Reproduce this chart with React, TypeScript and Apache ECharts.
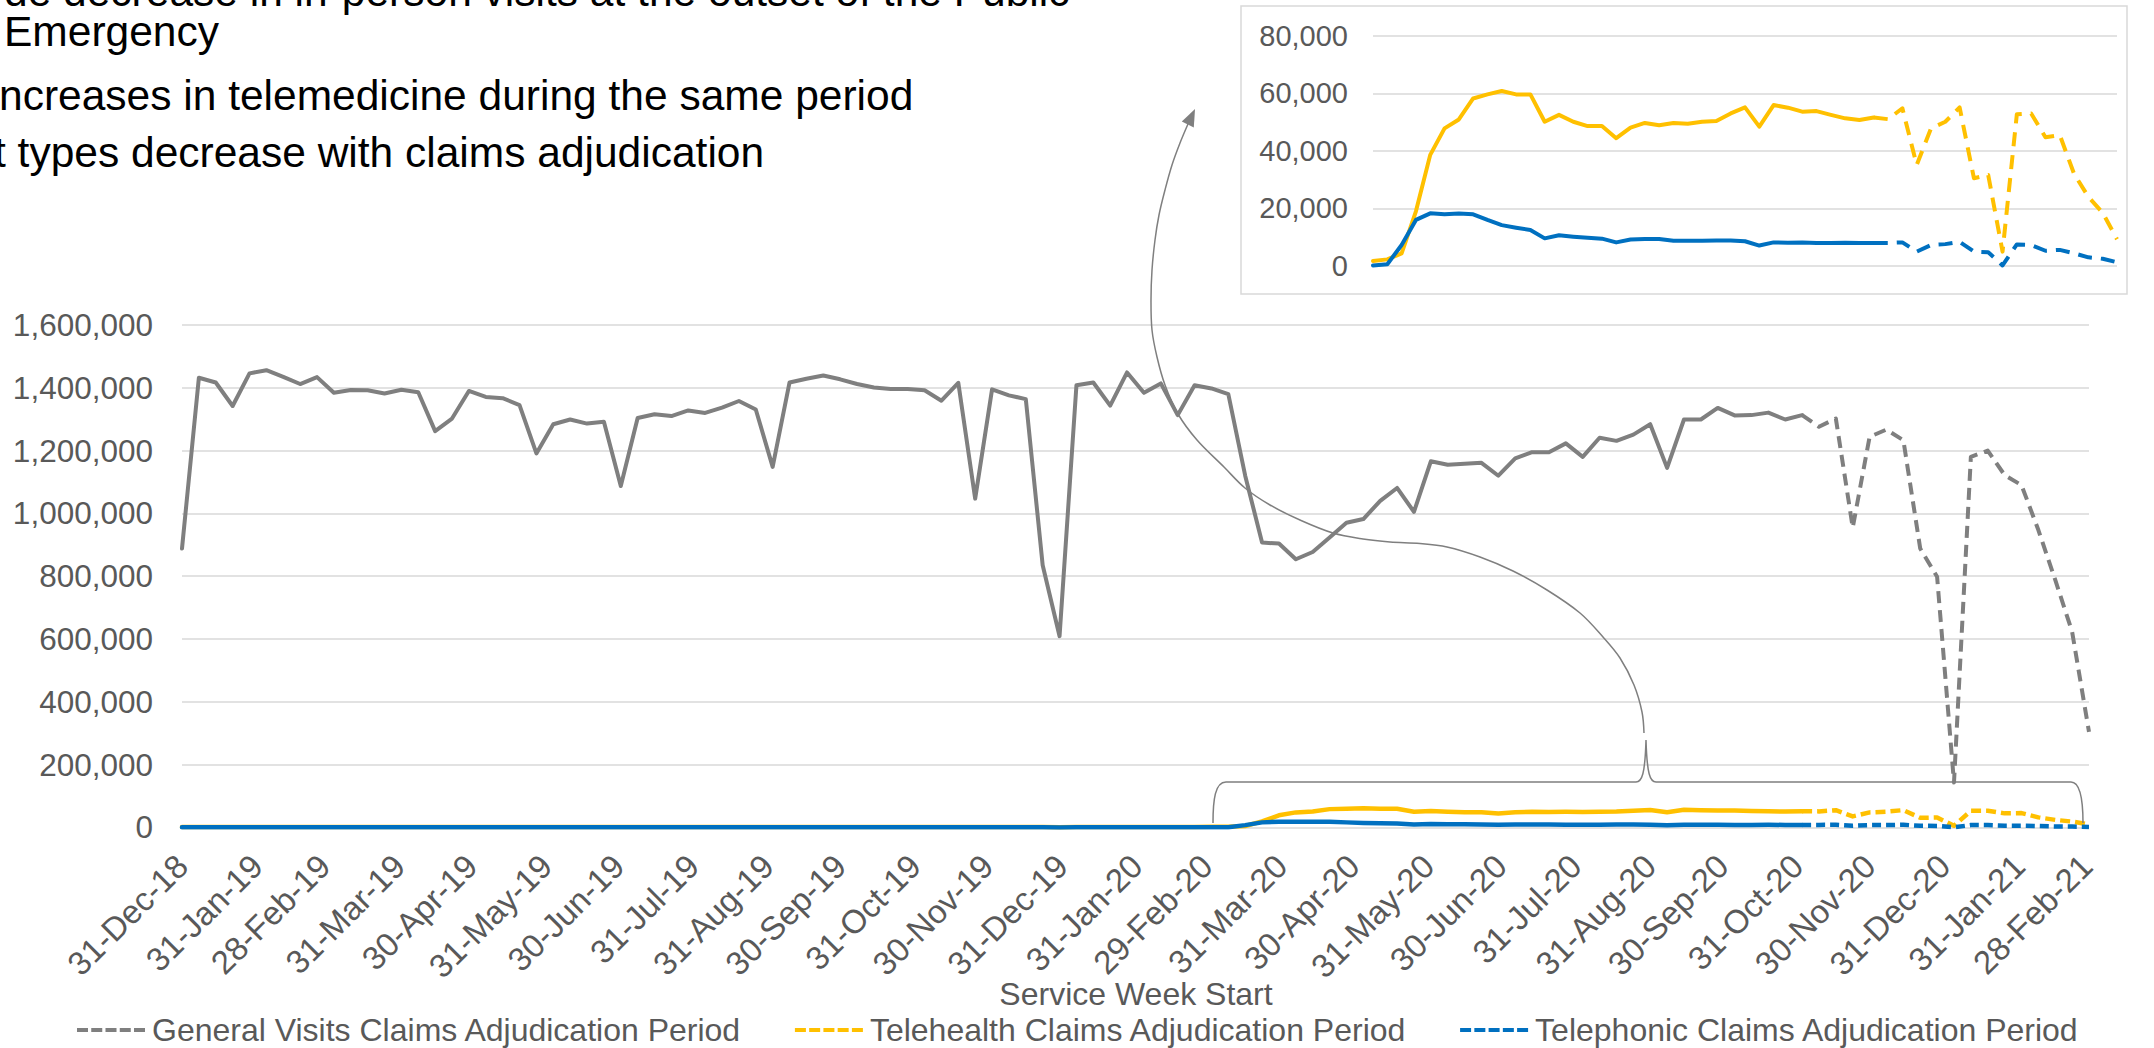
import React, { useEffect, useRef } from "react";
import * as echarts from "echarts";

// ---------- data ----------
const firstWeekStart = "31-Dec-18"; // week index 0
const tickLabels = [
  "31-Dec-18", "31-Jan-19", "28-Feb-19", "31-Mar-19", "30-Apr-19", "31-May-19", "30-Jun-19",
  "31-Jul-19", "31-Aug-19", "30-Sep-19", "31-Oct-19", "30-Nov-19", "31-Dec-19", "31-Jan-20",
  "29-Feb-20", "31-Mar-20", "30-Apr-20", "31-May-20", "30-Jun-20", "31-Jul-20", "31-Aug-20",
  "30-Sep-20", "31-Oct-20", "30-Nov-20", "31-Dec-20", "31-Jan-21", "28-Feb-21",
];
const adjudicationStartWeek = 96; // 2-Nov-20: claims adjudication period starts
const insetStartWeek = 61; // 2-Mar-20: first week shown in the zoomed panel

// weekly claims, weeks 0..113
const generalVisits = [
  888000, 1432000, 1417000, 1342000, 1446000, 1456000, 1435000, 1412000, 1434000, 1384000,
  1393000, 1392000, 1382000, 1394000, 1386000, 1262000, 1302000, 1390000, 1371000, 1367000,
  1345000, 1191000, 1284000, 1299000, 1286000, 1292000, 1087000, 1304000, 1316000, 1310000,
  1328000, 1320000, 1337000, 1358000, 1331000, 1148000, 1417000, 1429000, 1439000, 1427000,
  1412000, 1401000, 1396000, 1396000, 1392000, 1359000, 1416000, 1047000, 1395000, 1376000,
  1364000, 835000, 609000, 1408000, 1417000, 1343000, 1449000, 1384000, 1414000, 1313000,
  1408000, 1398000, 1380000, 1120000, 907000, 904000, 854000, 877000, 923000, 970000,
  982000, 1040000, 1081000, 1005000, 1166000, 1155000, 1158000, 1161000, 1120000, 1175000,
  1195000, 1195000, 1223000, 1180000, 1241000, 1231000, 1251000, 1284000, 1145000, 1299000,
  1299000, 1336000, 1312000, 1313000, 1321000, 1299000, 1313000, 1276000, 1302000, 955000,
  1244000, 1267000, 1233000, 888000, 798000, 143000, 1180000, 1200000, 1122000, 1090000,
  947000, 788000, 623000, 304000,
];
const telehealth = [
  1200, 1350, 1300, 1250, 1400, 1350, 1300, 1350, 1400, 1300,
  1350, 1300, 1300, 1350, 1300, 1250, 1300, 1350, 1300, 1300,
  1250, 1200, 1250, 1300, 1250, 1300, 1150, 1300, 1300, 1300,
  1350, 1300, 1350, 1350, 1300, 1200, 1400, 1400, 1400, 1400,
  1350, 1350, 1350, 1350, 1350, 1300, 1400, 1100, 1400, 1350,
  1350, 1000, 800, 1450, 1450, 1400, 1500, 1450, 1500, 1400,
  1550, 1700, 2300, 4400, 19000, 38600, 47800, 50900, 58200, 59600,
  60800, 59600, 59600, 50100, 52500, 50100, 48600, 48600, 44400, 48100,
  49700, 48900, 49700, 49400, 50100, 50400, 53000, 55100, 48400, 55900,
  55000, 53600, 53800, 52500, 51300, 50700, 51600, 51000, 54800, 35100,
  47800, 50100, 55100, 30500, 31600, 5000, 52700, 53000, 44700, 45500,
  32000, 24000, 18500, 9300,
];
const telephonic = [
  100, 120, 110, 100, 120, 120, 110, 110, 120, 100,
  110, 110, 100, 110, 110, 100, 100, 110, 110, 100,
  100, 90, 100, 100, 100, 100, 90, 100, 100, 100,
  110, 100, 100, 110, 100, 90, 110, 110, 110, 110,
  110, 100, 100, 100, 100, 100, 110, 90, 110, 100,
  100, 80, 60, 110, 110, 100, 120, 110, 120, 110,
  120, 200, 600, 7300, 16000, 18300, 17950, 18200, 17950, 16000,
  14200, 13300, 12500, 9600, 10700, 10200, 9800, 9500, 8200, 9200,
  9400, 9400, 8800, 8800, 8800, 8900, 8900, 8600, 7100, 8200,
  8100, 8200, 8000, 8000, 8100, 8000, 8000, 8000, 8200, 5000,
  7300, 7600, 8400, 5000, 4800, 200, 7500, 7300, 5300, 5600,
  4400, 3000, 2500, 1300,
];

const mainYMax = 1600000;
const mainYStep = 200000;
const insetYMax = 80000;
const insetYStep = 20000;

const seriesNames = ["General Visits", "Telehealth", "Telephonic"];
const legendNames = [
  "General Visits Claims Adjudication Period",
  "Telehealth Claims Adjudication Period",
  "Telephonic Claims Adjudication Period",
];
const axisTitle = "Service Week Start";
const slideLines = [
  "de decrease in in-person visits at the outset of the Public",
  "Emergency",
  "ncreases in telemedicine during the same period",
  "t types decrease with claims adjudication",
];

// ---------- helpers ----------
const MONTHS: Record<string, number> = {
  Jan: 0, Feb: 1, Mar: 2, Apr: 3, May: 4, Jun: 5, Jul: 6, Aug: 7, Sep: 8, Oct: 9, Nov: 10, Dec: 11,
};
const toUTC = (s: string) => {
  const [d, m, y] = s.split("-");
  return Date.UTC(2000 + Number(y), MONTHS[m], Number(d));
};
const dayOffset = (s: string) => Math.round((toUTC(s) - toUTC(firstWeekStart)) / 86400000);
const tickDays = tickLabels.map(dayOffset);
const tickMap: Record<number, string> = {};
tickDays.forEach((d, i) => (tickMap[d] = tickLabels[i]));
const weekPoints = (vals: number[], from: number, to: number) => {
  const out: number[][] = [];
  for (let i = from; i <= to; i++) out.push([i * 7, vals[i]]);
  return out;
};
const lastWeek = generalVisits.length - 1;

const FONT = "'Liberation Sans', Arial, Helvetica, sans-serif";
const GREY = "#7f7f7f";
const GOLD = "#ffc000";
const BLUE = "#0070c0";
const AXIS_TEXT = "#595959";
const GRID_LINE = "#d9d9d9";
const DASH_ICON =
  "path://M0 0h11v4H0z M14.25 0h11v4h-11z M28.5 0h11v4h-11z M42.75 0h11v4h-11z M57 0h11v4h-11z";

const BRACKET_D =
  "M1213 823 C1213 800 1215 782 1226 782 L1636 782 C1642 782 1645 774 1646 740 C1647 774 1650 782 1656 782 L2071 782 C2080 782 2083 800 2083 823";
echarts.graphic.registerShape("bracket", echarts.graphic.extendPath(BRACKET_D, {}));

const CONNECTOR = [
  [1644, 733], [1642, 712], [1634, 685], [1620, 658], [1603, 637], [1580, 613], [1547, 590],
  [1513, 571], [1480, 557], [1447, 547], [1420, 543.5], [1390, 542], [1363, 539], [1333, 533],
  [1300, 520], [1270, 505], [1245, 488], [1224, 467], [1197, 440], [1178, 414], [1165, 385],
  [1157, 357], [1152, 330], [1151, 300], [1152, 270], [1155, 240], [1159, 215], [1165, 190],
  [1172, 165], [1180, 143], [1188, 124],
];
const ARROW = [[1195, 109], [1193.8, 127.5], [1181.8, 121.5]];

const lineSeries = (
  name: string, color: string, width: number, dash: number[] | null,
  data: number[][], axis: number, z: number
) => ({
  type: "line",
  name,
  data,
  xAxisIndex: axis,
  yAxisIndex: axis,
  symbol: "none",
  showSymbol: false,
  color,
  z,
  silent: true,
  emphasis: { disabled: true },
  lineStyle: {
    color,
    width,
    type: dash ? dash : "solid",
    cap: dash ? "butt" : "round",
    join: "round",
  },
});

export default function App() {
  const ref = useRef<HTMLDivElement>(null);
  useEffect(() => {
    if (!ref.current) return;
    const chart = echarts.init(ref.current, null, { renderer: "svg" });
    const s = adjudicationStartWeek;
    const colors = [GREY, GOLD, BLUE];
    const values = [generalVisits, telehealth, telephonic];
    const widths = [4, 4.5, 4.5];
    const dashes = [[12, 7], [10, 5], [9, 5]];

    const series: any[] = [];
    values.forEach((v, k) =>
      series.push(lineSeries(seriesNames[k], colors[k], widths[k], null, weekPoints(v, 0, s), 0, 2 + k))
    );
    values.forEach((v, k) =>
      series.push(lineSeries(legendNames[k], colors[k], k === 0 ? 4 : 4.5, dashes[k], weekPoints(v, s, lastWeek), 0, 2 + k))
    );
    [1, 2].forEach((k) => {
      series.push(lineSeries("inset " + seriesNames[k], colors[k], 4, null, weekPoints(values[k], insetStartWeek, s), 1, 2 + k));
      series.push(lineSeries("inset adj " + seriesNames[k], colors[k], 4, [14, 9], weekPoints(values[k], s, lastWeek), 1, 2 + k));
    });

    const textEl = (text: string, x: number, y: number, size: number, fill: string, align = "left", lh = 0) => ({
      type: "text",
      x,
      y,
      silent: true,
      z: 50,
      style: {
        text,
        fill,
        fontSize: size,
        fontFamily: FONT,
        lineHeight: lh || undefined,
        align,
        verticalAlign: "middle",
        textAlign: align,
        textVerticalAlign: "middle",
      },
    });

    const option: any = {
      animation: false,
      backgroundColor: "#ffffff",
      textStyle: { fontFamily: FONT },
      grid: [
        { left: 182, top: 325, width: 1907, height: 502.4 },
        { left: 1373, top: 35.7, width: 744, height: 230.3 },
      ],
      xAxis: [
        {
          type: "value",
          gridIndex: 0,
          min: 0,
          max: lastWeek * 7,
          axisLine: { show: false },
          axisTick: { show: false },
          splitLine: { show: false },
          axisLabel: {
            customValues: tickDays,
            formatter: (v: number) => tickMap[Math.round(v)] || "",
            rotate: 45,
            margin: 33,
            fontSize: 33,
            color: AXIS_TEXT,
            fontFamily: FONT,
          },
        },
        {
          type: "value",
          gridIndex: 1,
          min: insetStartWeek * 7,
          max: lastWeek * 7,
          axisLine: { show: false },
          axisTick: { show: false },
          splitLine: { show: false },
          axisLabel: { show: false },
        },
      ],
      yAxis: [
        {
          type: "value",
          gridIndex: 0,
          min: 0,
          max: mainYMax,
          interval: mainYStep,
          axisLine: { show: false },
          axisTick: { show: false },
          splitLine: { lineStyle: { color: GRID_LINE, width: 1.5 } },
          axisLabel: {
            formatter: (v: number) => v.toLocaleString("en-US"),
            margin: 29,
            fontSize: 31.5,
            color: AXIS_TEXT,
            fontFamily: FONT,
          },
        },
        {
          type: "value",
          gridIndex: 1,
          min: 0,
          max: insetYMax,
          interval: insetYStep,
          axisLine: { show: false },
          axisTick: { show: false },
          splitLine: { lineStyle: { color: GRID_LINE, width: 1.5 } },
          axisLabel: {
            formatter: (v: number) => v.toLocaleString("en-US"),
            margin: 25,
            fontSize: 29,
            color: AXIS_TEXT,
            fontFamily: FONT,
          },
        },
      ],
      legend: {
        data: legendNames,
        left: 72,
        top: 1009,
        itemWidth: 72,
        itemHeight: 4,
        itemGap: 53,
        icon: DASH_ICON,
        selectedMode: false,
        itemStyle: { borderWidth: 0 },
        textStyle: { fontSize: 32, color: AXIS_TEXT, fontFamily: FONT },
      },
      series,
      graphic: {
        elements: [
          {
            type: "rect",
            silent: true,
            z: 0,
            shape: { x: 1241, y: 6, width: 886, height: 288 },
            style: { fill: "none", stroke: GRID_LINE, lineWidth: 1.5 },
          },
          textEl(slideLines[0], 4, -8.6, 42.5, "#000000", "left", 38),
          textEl(slideLines[1], 4, 31.4, 42.5, "#000000", "left", 38),
          textEl(slideLines[2], -1, 95.4, 42.5, "#000000", "left", 38),
          textEl(slideLines[3], -6, 152.4, 42.5, "#000000", "left", 38),
          textEl(axisTitle, 1136, 994, 32, AXIS_TEXT, "center"),
          {
            type: "bracket",
            silent: true,
            z: 60,
            style: { fill: "none", stroke: GREY, lineWidth: 1.5 },
          },
          {
            type: "polyline",
            silent: true,
            z: 60,
            shape: { points: CONNECTOR, smooth: 0.35 },
            style: { fill: "none", stroke: GREY, lineWidth: 1.5 },
          },
          {
            type: "polygon",
            silent: true,
            z: 60,
            shape: { points: ARROW },
            style: { fill: GREY },
          },
        ],
      },
    };
    chart.setOption(option);
    return () => chart.dispose();
  }, []);

  return (
    <div
      ref={ref}
      style={{ position: "fixed", left: 0, top: 0, width: 2154, height: 1048, background: "#fff" }}
    />
  );
}
